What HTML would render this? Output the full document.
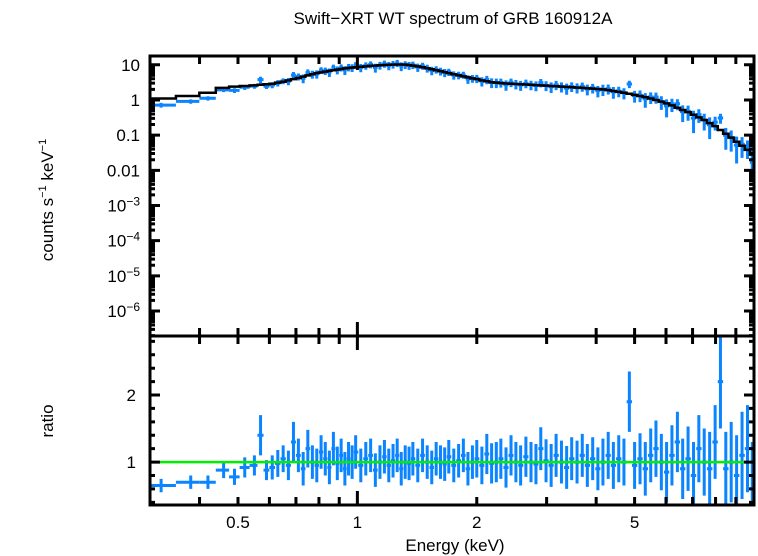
<!DOCTYPE html>
<html><head><meta charset="utf-8"><style>
body{margin:0;background:#fff;}
svg{display:block;font-family:"Liberation Sans",Arial,sans-serif;}
</style></head><body>
<svg id="chart" width="758" height="556" viewBox="0 0 758 556" xmlns="http://www.w3.org/2000/svg">
<defs>
<clipPath id="cTop"><rect x="150" y="56" width="604" height="280"/></clipPath>
<clipPath id="cBot"><rect x="150" y="336" width="604" height="170"/></clipPath>
</defs>
<text x="453" y="24" font-size="17" text-anchor="middle">Swift−XRT WT spectrum of GRB 160912A</text>
<text transform="translate(53,200) rotate(-90)" font-size="17" text-anchor="middle">counts s<tspan font-size="11" dy="-7">−1</tspan><tspan dy="7"> keV</tspan><tspan font-size="11" dy="-7">−1</tspan></text>
<text transform="translate(53,421) rotate(-90)" font-size="17" text-anchor="middle">ratio</text>
<text x="455" y="551" font-size="17" text-anchor="middle">Energy (keV)</text>
<g id="gTop" clip-path="url(#cTop)"></g>
<g id="gBot" clip-path="url(#cBot)"></g>
<g id="gAxes"></g>
</svg>
<script>
const energies=[0.32,0.38,0.42,0.46,0.49,0.52,0.55,0.57,0.59,0.61,0.63,0.65,0.67,0.69,0.71,0.73,0.75,0.77,0.79,0.81,0.83,0.85,0.87,0.89,0.91,0.93,0.95,0.97,0.99,1.02,1.05,1.08,1.11,1.14,1.17,1.20,1.23,1.26,1.29,1.32,1.35,1.38,1.42,1.46,1.50,1.54,1.58,1.62,1.66,1.70,1.75,1.80,1.85,1.90,1.95,2.00,2.06,2.12,2.18,2.24,2.30,2.37,2.44,2.51,2.58,2.66,2.74,2.82,2.90,2.99,3.08,3.17,3.27,3.37,3.47,3.58,3.69,3.80,3.92,4.04,4.16,4.29,4.42,4.56,4.70,4.85,5.00,5.16,5.32,5.49,5.66,5.84,6.02,6.21,6.41,6.61,6.82,7.04,7.26,7.49,7.73,7.98,8.23,8.49,8.76,9.04,9.33,9.63,9.9];
const modelRate=[1.1,1.3,1.6,2.2,2.4,2.5,2.6,2.7,2.8,2.9,3.1,3.3,3.6,3.9,4.2,4.6,5.0,5.4,5.8,6.1,6.4,6.7,7.0,7.3,7.6,7.9,8.1,8.3,8.5,8.8,9.0,9.3,9.5,9.7,9.9,10.0,10.1,10.2,10.2,10.1,9.8,9.5,9.0,8.5,8.0,7.5,7.0,6.6,6.2,5.8,5.4,5.0,4.7,4.4,4.1,3.9,3.6,3.4,3.2,3.1,3.0,2.95,2.9,2.85,2.8,2.75,2.7,2.65,2.6,2.55,2.5,2.45,2.4,2.35,2.3,2.25,2.2,2.15,2.1,2.05,2.0,1.9,1.8,1.7,1.6,1.5,1.4,1.3,1.2,1.1,1.0,0.9,0.8,0.7,0.6,0.52,0.45,0.38,0.32,0.27,0.22,0.18,0.14,0.11,0.085,0.065,0.05,0.038,0.028];
const ratioVals=[0.65,0.7,0.7,0.88,0.78,0.92,0.95,1.4,0.88,0.92,0.98,1.05,0.95,1.3,1.1,0.9,1.2,1.0,0.95,1.15,1.05,0.92,1.2,0.98,1.1,0.9,1.05,1.0,1.15,0.95,1.05,1.1,0.88,1.0,1.08,0.95,1.02,1.1,0.9,1.0,0.98,1.05,0.95,1.1,1.0,0.92,1.05,1.0,0.97,1.08,0.95,1.02,1.1,0.9,1.0,1.05,0.95,1.12,0.98,1.0,1.05,0.92,1.1,1.0,0.95,1.08,1.0,0.97,1.2,1.02,0.95,1.1,1.0,0.92,1.05,1.0,1.1,0.95,1.05,0.9,1.0,1.1,0.95,1.05,1.0,1.9,0.95,1.05,0.9,1.1,1.2,1.0,0.85,1.1,1.3,0.9,1.05,0.8,1.2,1.0,0.9,1.3,2.2,0.9,1.0,0.8,1.1,1.2,0.6];
const ratioErr=[0.1,0.1,0.1,0.12,0.12,0.15,0.15,0.3,0.15,0.18,0.2,0.2,0.22,0.3,0.25,0.25,0.28,0.25,0.25,0.25,0.25,0.25,0.25,0.25,0.25,0.25,0.25,0.25,0.25,0.25,0.25,0.25,0.25,0.25,0.25,0.25,0.25,0.25,0.25,0.25,0.25,0.25,0.25,0.25,0.25,0.25,0.25,0.25,0.25,0.25,0.25,0.25,0.25,0.25,0.25,0.28,0.28,0.3,0.3,0.3,0.3,0.3,0.3,0.3,0.3,0.3,0.3,0.3,0.32,0.32,0.32,0.32,0.32,0.32,0.32,0.32,0.32,0.32,0.32,0.32,0.35,0.35,0.35,0.35,0.35,0.45,0.35,0.38,0.4,0.4,0.42,0.42,0.45,0.45,0.45,0.45,0.48,0.5,0.5,0.5,0.55,0.55,0.7,0.55,0.6,0.6,0.65,0.65,0.7];
const xTickLabels=["0.5","1","2","5"];
const xTickValues=[0.5,1,2,5];
const topYDecades=[1,0,-1,-2,-3,-4,-5,-6];
const topYLabels=["10","1","0.1","0.01","10|−3","10|−4","10|−5","10|−6"];
const ratioTicks=[1,2];

const NS="http://www.w3.org/2000/svg";
const L=150,R=754,T1=56,B1=336,T2=336,B2=505;
const xMin=Math.log10(0.3),xMax=Math.log10(10.0);
const X=e=>L+(Math.log10(e)-xMin)/(xMax-xMin)*(R-L);
const yTopMax=1.25,yTopMin=-6.71;
const YT=v=>T1+(yTopMax-Math.log10(Math.max(v,1e-9)))/(yTopMax-yTopMin)*(B1-T1);
const rMax=2.88,rMin=0.36;
const YB=r=>T2+(rMax-r)/(rMax-rMin)*(B2-T2);
function mk(tag,attrs,parent){const el=document.createElementNS(NS,tag);for(const k in attrs)el.setAttribute(k,attrs[k]);parent.appendChild(el);return el;}
const gTop=document.getElementById('gTop'),gBot=document.getElementById('gBot'),gAx=document.getElementById('gAxes');
const n=Math.min(energies.length,modelRate.length,ratioVals.length,ratioErr.length);
const lo=[],hi=[];
for(let i=0;i<n;i++){
  lo.push(i===0?0.3:Math.sqrt(energies[i-1]*energies[i]));
  hi.push(i===n-1?10:Math.sqrt(energies[i]*energies[i+1]));
}
const BLUE="#0a84ff";
for(let i=0;i<n;i++){
  const rate=modelRate[i]*ratioVals[i],err=modelRate[i]*ratioErr[i];
  const p=mk('path',{d:`M${X(lo[i])},${YT(rate)}H${X(hi[i])}M${X(energies[i])},${YT(rate+err)}V${YT(Math.max(rate-err,rate*0.3))}`,stroke:BLUE,'stroke-width':3,fill:'none'},gTop);
  
  
  const q=mk('path',{d:`M${X(lo[i])},${YB(ratioVals[i])}H${X(hi[i])}M${X(energies[i])},${YB(ratioVals[i]+ratioErr[i])}V${YB(ratioVals[i]-ratioErr[i])}`,stroke:BLUE,'stroke-width':3,fill:'none'},gBot);
  
  
}
let d=`M${X(lo[0])},${YT(modelRate[0])}`;
for(let i=0;i<n;i++){d+=`V${YT(modelRate[i])}H${X(hi[i])}`;}
const m=mk('path',{d:d,stroke:'#000','stroke-width':2.5,fill:'none'},gTop);


const g=mk('line',{x1:L,x2:R,y1:YB(1),y2:YB(1),stroke:'#00ee00','stroke-width':2.5},gBot);


const f1=mk('rect',{x:L,y:T1,width:R-L,height:B1-T1,fill:'none',stroke:'#000','stroke-width':3},gAx);


const f2=mk('rect',{x:L,y:T2,width:R-L,height:B2-T2,fill:'none',stroke:'#000','stroke-width':3},gAx);


let td='';
const xt=[0.3,0.4,0.5,0.6,0.7,0.8,0.9,1,2,3,4,5,6,7,8,9];
for(const e of xt){const x=X(e);const len=e===1?14:8;
  for(const [a,b] of [[T1,B1],[T2,B2]]){td+=`M${x},${a}v${len}M${x},${b}v${-len}`;}}
for(let dec=-7;dec<=1;dec++){for(let k=1;k<=9;k++){const v=k*Math.pow(10,dec);const y=YT(v);if(y<T1||y>B1)continue;const len=k===1?10:5;td+=`M${L},${y}h${len}M${R},${y}h${-len}`;}}
for(let r=0.4;r<2.9;r+=0.2){const y=YB(r);const len=(Math.abs(r-1)<0.01||Math.abs(r-2)<0.01)?10:5;td+=`M${L},${y}h${len}M${R},${y}h${-len}`;}
const tk=mk('path',{d:td,stroke:'#000','stroke-width':3,fill:'none'},gAx);


xTickLabels.forEach((lab,i)=>{const t=mk('text',{x:X(xTickValues[i]),y:528,'font-size':17,'text-anchor':'middle'},gAx);t.textContent=lab;
  
  });
topYDecades.forEach((dec,i)=>{const y=YT(Math.pow(10,dec));const t=mk('text',{x:140,y:y+6,'font-size':17,'text-anchor':'end'},gAx);
  const parts=topYLabels[i].split('|');
  if(parts.length>1){t.textContent=parts[0];const s=mk('tspan',{'font-size':12,dy:-6},t);s.textContent=parts[1];}else t.textContent=parts[0];
  
  });
ratioTicks.forEach(r=>{const t=mk('text',{x:136,y:YB(r)+6,'font-size':17,'text-anchor':'end'},gAx);t.textContent=String(r);
  
  });
</script>
</body></html>
